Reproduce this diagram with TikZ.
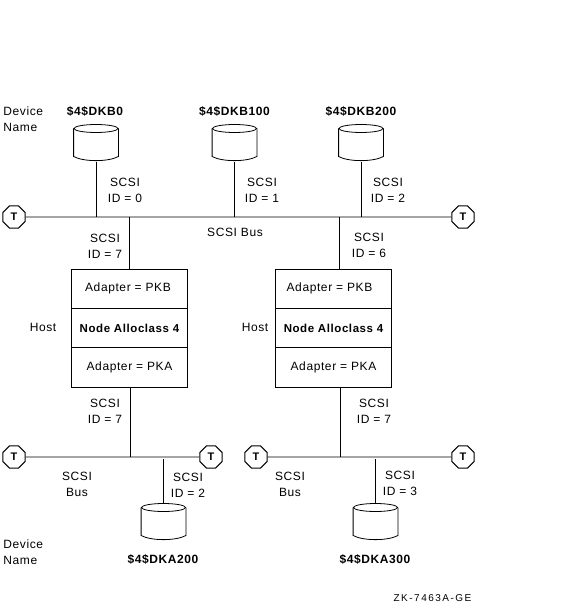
\documentclass[tikz,border=0pt]{standalone}
\usepackage{fontspec}
\setmainfont[LetterSpace=5]{Liberation Sans}
\usetikzlibrary{shapes.geometric}
\tikzset{
    lbl/.style={font=\fontsize{12}{16}\selectfont, inner sep=0pt, align=center},
    lblb/.style={lbl, font=\fontsize{12}{16}\selectfont\bfseries},
    term/.style={draw, line width=1.1pt, regular polygon, regular polygon sides=8, minimum size=24, inner sep=0pt,
        font=\fontsize{11}{11}\selectfont\bfseries},
    disk/.style={minimum width=44, minimum height=37, inner sep=0pt},
    cell/.style={draw, minimum width=115.5, minimum height=39.33, inner sep=0pt, font=\fontsize{12}{16}\selectfont},
    wire/.style={line width=0.8pt}
}
\begin{document}
\begin{tikzpicture}[x=1pt,y=-1pt,wire]
    \useasboundingbox (0,0) rectangle (569,609);
    % Discos
    \node[disk] (dkb0) at (96,143) {};
    \node[disk] (dkb100) at (234.5,143) {};
    \node[disk] (dkb200) at (361,143) {};
    \node[disk] (dka200) at (163.5,522) {};
    \node[disk] (dka300) at (375.5,522) {};
    \foreach \dn in {dkb0,dkb100,dkb200,dka200,dka300} {
        \draw ([yshift=14.5]\dn.center) ellipse (22 and 4);
        \draw ([yshift=14.5]\dn.west) -- ([yshift=-13.5]\dn.west)
            .. controls ([xshift=10,yshift=-19]\dn.west) and ([xshift=-10,yshift=-19]\dn.east) .. ([yshift=-13.5]\dn.east)
            -- ([yshift=14.5]\dn.east);
    }
    % Terminadores
    \node[term] (tu1) at (14,217) {T};
    \node[term] (tu2) at (463,217) {T};
    \node[term] (tl1) at (14,457) {T};
    \node[term] (tl2) at (211,457) {T};
    \node[term] (tr1) at (256,457) {T};
    \node[term] (tr2) at (463,457) {T};
    % Hosts
    \foreach \hn/\hx/\bo in {hl/129.5/-3, hr/333.5/-8} {
        \node[cell] (\hn b) at (\hx,288.67) {\hspace*{\bo pt}Adapter = PKB};
        \node[cell] (\hn n) at (\hx,328) {\fontsize{11.5}{16}\selectfont\bfseries Node Alloclass 4};
        \node[cell] (\hn a) at (\hx,367.33) {Adapter = PKA};
    }
    % Buses
    \draw (tu1) -- (tu2);
    \draw (tl1) -- (tl2);
    \draw (tr1) -- (tr2);
    % Uniones
    \coordinate (jb0) at (96,217);
    \coordinate (jb1) at (234.5,217);
    \coordinate (jb2) at (361,217);
    \coordinate (jhl) at (129.5,217);
    \coordinate (jhr) at (339,217);
    \coordinate (jhlb) at (129.5,269);
    \coordinate (jhrb) at (339,269);
    \coordinate (jhla) at (130,387);
    \coordinate (jhra) at (340,387);
    \coordinate (jla) at (130,457);
    \coordinate (jra) at (340,457);
    \coordinate (jd0) at (163.5,459);
    \coordinate (jd1) at (375.5,459);
    \draw (dkb0.south) -- (jb0);
    \draw (dkb100.south) -- (jb1);
    \draw (dkb200.south) -- (jb2);
    \draw (jhl) -- (jhlb);
    \draw (jhr) -- (jhrb);
    \draw (jhla) -- (jla);
    \draw (jhra) -- (jra);
    \draw (jd0) -- (dka200.north);
    \draw (jd1) -- (dka300.north);
    % Rotulos
    \node[lbl, anchor=west, align=left] (dn1) at (3,119) {Device\\Name};
    \node[lbl, anchor=west, align=left] (dn2) at (3,552) {Device\\Name};
    \node[lblb] (nb0) at (95,111) {\$4\$DKB0};
    \node[lblb] (nb1) at (234.5,111) {\$4\$DKB100};
    \node[lblb] (nb2) at (361,111) {\$4\$DKB200};
    \node[lblb] (na2) at (163,559) {\$4\$DKA200};
    \node[lblb] (na3) at (375,559) {\$4\$DKA300};
    \node[lbl] (id0) at (125,190) {SCSI\\ID = 0};
    \node[lbl] (id1) at (262,190) {SCSI\\ID = 1};
    \node[lbl] (id2) at (388,190) {SCSI\\ID = 2};
    \node[lbl] (id7a) at (105,246) {SCSI\\ID = 7};
    \node[lbl] (id6) at (369,245) {SCSI\\ID = 6};
    \node[lbl] (idl7) at (105,411) {SCSI\\ID = 7};
    \node[lbl] (idr7) at (374,411) {SCSI\\ID = 7};
    \node[lbl] (idl2) at (188,485) {SCSI\\ID = 2};
    \node[lbl] (idr3) at (400,483) {SCSI\\ID = 3};
    \node[lbl] (bu) at (235,232) {SCSI Bus};
    \node[lbl] (bl) at (77,484) {SCSI\\Bus};
    \node[lbl] (br) at (290,484) {SCSI\\Bus};
    \node[lbl] (hl) at (43,327) {Host};
    \node[lbl] (hr) at (255,327) {Host};
    \node[inner sep=0pt, font=\fontsize{10}{10}\selectfont\addfontfeature{LetterSpace=15}] (zk) at (432.5,598.5) {ZK-7463A-GE};
\end{tikzpicture}
\end{document}
